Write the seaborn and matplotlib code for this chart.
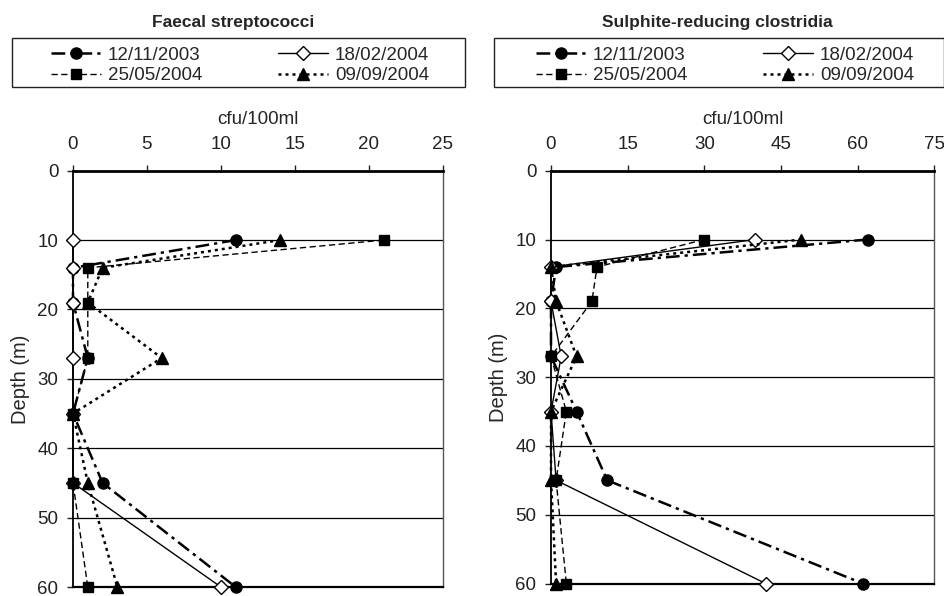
import matplotlib
matplotlib.use("Agg")
import matplotlib.pyplot as plt
from matplotlib.patches import Rectangle
import numpy as np
import pandas as pd
import seaborn as sns

# ---------------- data ----------------
depth = [10, 14, 19, 27, 35, 45, 60]
dates = ["12/11/2003", "18/02/2004", "25/05/2004", "09/09/2004"]

fs_12_11_2003 = [11, 0, 0, 1, 0, 2, 11]
fs_18_02_2004 = [0, 0, 0, 0, 0, 0, 10]
fs_25_05_2004 = [21, 1, 1, 1, 0, 0, 1]
fs_09_09_2004 = [14, 2, 1, 6, 0, 1, 3]

src_12_11_2003 = [62, 1, 0, 0, 5, 11, 61]
src_18_02_2004 = [40, 0, 0, 2, 0, 1, 42]
src_25_05_2004 = [30, 9, 8, 0, 3, 1, 3]
src_09_09_2004 = [49, 0, 1, 5, 0, 0, 1]

fs_xticks = [0, 5, 10, 15, 20, 25]
src_xticks = [0, 15, 30, 45, 60, 75]
depth_ticks = [0, 10, 20, 30, 40, 50, 60]

panel_titles = ["Faecal streptococci", "Sulphite-reducing clostridia"]
xlabel = "cfu/100ml"
ylabel = "Depth (m)"

# ---------------- style ----------------
sns.set_style("white")
plt.rcParams["font.family"] = ["Liberation Sans", "DejaVu Sans"]

styles = {
    "12/11/2003": dict(marker="o", markersize=8, markerfacecolor="black",
                       linewidth=1.8, linestyle=(0, (5.5, 2, 1.3, 2))),
    "18/02/2004": dict(marker="D", markersize=7.3, markerfacecolor="white",
                       linewidth=1.0, linestyle="-"),
    "25/05/2004": dict(marker="s", markersize=7.5, markerfacecolor="black",
                       linewidth=1.0, linestyle=(0, (4.5, 2.5))),
    "09/09/2004": dict(marker="^", markersize=9, markerfacecolor="black",
                       linewidth=1.8, linestyle=(0, (1.2, 1.6))),
}

fig = plt.figure(figsize=(9.45, 5.96), dpi=100)
W, H = 945.0, 596.0

def fx(px):
    return px / W

def fy(py):
    return 1 - py / H

ax_l = fig.add_axes([fx(73), fy(587), fx(442.7) - fx(73), fy(170.7) - fy(587)])
ax_r = fig.add_axes([fx(551), fy(583.5), fx(934.3) - fx(551), fy(170.7) - fy(583.5)])

panels = [
    (ax_l, [fs_12_11_2003, fs_18_02_2004, fs_25_05_2004, fs_09_09_2004], fs_xticks),
    (ax_r, [src_12_11_2003, src_18_02_2004, src_25_05_2004, src_09_09_2004], src_xticks),
]

legend_boxes = [(12, 37.7, 465, 87.3), (494, 37.7, 944, 87.3)]
legend_centers = [(240, 65.5), (725, 65.5)]
title_centers = [(233, 22), (717, 22)]

for i, (ax, series, xticks) in enumerate(panels):
    handles = {}
    for date, vals in zip(dates, series):
        df = pd.DataFrame({"cfu": vals, "depth": depth})
        n_before = len(ax.get_lines())
        sns.lineplot(data=df, x="cfu", y="depth", ax=ax, sort=False,
                     estimator=None, color="black", mec="black", mew=1.0,
                     clip_on=False, zorder=3, **styles[date])
        handles[date] = ax.get_lines()[n_before]

    ax.set_xlim(xticks[0], xticks[-1])
    ax.set_ylim(60, 0)
    ax.set_xticks(xticks)
    ax.set_yticks(depth_ticks)
    ax.xaxis.tick_top()
    ax.xaxis.set_label_position("top")
    ax.set_xlabel(xlabel, fontsize=13.5, labelpad=9)
    ax.set_ylabel(ylabel, fontsize=14.5, labelpad=5)
    ax.tick_params(axis="x", direction="out", length=4.6, width=1, pad=8,
                   labelsize=13.5, colors="#222222", top=True, bottom=False)
    ax.tick_params(axis="y", direction="out", length=4.5, width=1, pad=6,
                   labelsize=13.5, colors="#222222", left=True)
    for d in depth_ticks[1:-1]:
        ax.axhline(d, color="black", lw=0.9, zorder=1)
    ax.spines["top"].set_linewidth(2.0)
    ax.spines["top"].set_color("black")
    ax.spines["left"].set_linewidth(1.3)
    ax.spines["left"].set_color("black")
    ax.spines["bottom"].set_linewidth(1.6)
    ax.spines["bottom"].set_color("black")
    ax.spines["right"].set_linewidth(1.0)
    ax.spines["right"].set_color("#555555")
    ax.grid(False)

    order = ["12/11/2003", "25/05/2004", "18/02/2004", "09/09/2004"]
    cx, cy = legend_centers[i]
    ax.legend([handles[d] for d in order], order, loc="center",
              bbox_to_anchor=(fx(cx), fy(cy)), bbox_transform=fig.transFigure,
              ncol=2, frameon=False, fontsize=13.5, handlelength=2.67,
              handletextpad=0.37, columnspacing=4.05, labelspacing=0.2,
              numpoints=1, borderaxespad=0, borderpad=0)

    x0, y0, x1, y1 = legend_boxes[i]
    fig.add_artist(Rectangle((fx(x0), fy(y1)), fx(x1) - fx(x0), fy(y0) - fy(y1),
                             transform=fig.transFigure, fill=False,
                             edgecolor="#222222", lw=1.0))
    tx, ty = title_centers[i]
    fig.text(fx(tx), fy(ty), panel_titles[i], ha="center", va="center",
             fontsize=12.5, fontweight="bold")

fig.savefig("out.png", dpi=100)
